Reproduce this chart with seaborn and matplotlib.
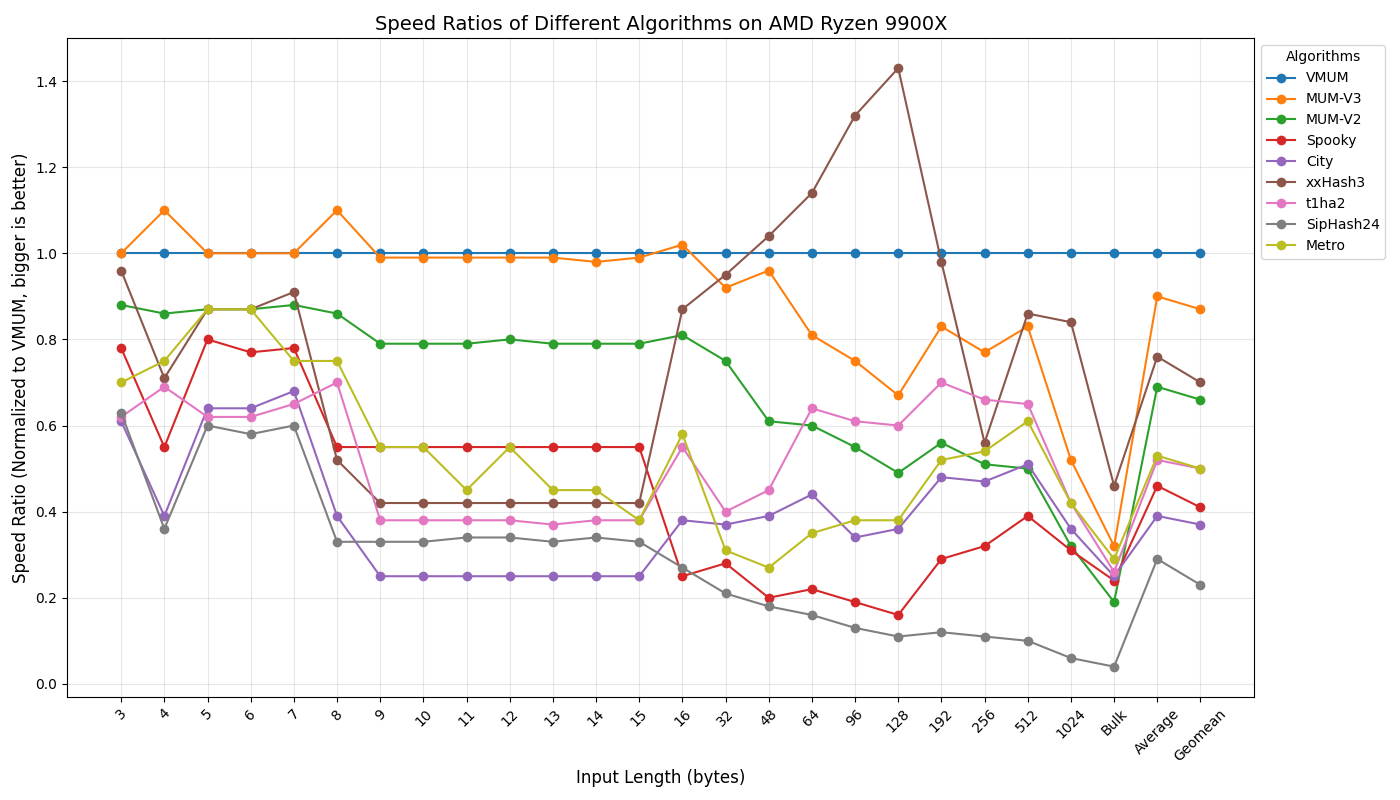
import pandas as pd
import matplotlib
matplotlib.use("Agg")
import matplotlib.pyplot as plt
import seaborn as sns

lengths = ['3', '4', '5', '6', '7', '8', '9', '10', '11', '12', '13', '14', '15', '16',
           '32', '48', '64', '96', '128', '192', '256', '512', '1024', 'Bulk', 'Average', 'Geomean']

vmum = [1.00] * 26
mum_v3 = [1.00, 1.10, 1.00, 1.00, 1.00, 1.10, 0.99, 0.99, 0.99, 0.99, 0.99, 0.98, 0.99, 1.02,
          0.92, 0.96, 0.81, 0.75, 0.67, 0.83, 0.77, 0.83, 0.52, 0.32, 0.90, 0.87]
mum_v2 = [0.88, 0.86, 0.87, 0.87, 0.88, 0.86, 0.79, 0.79, 0.79, 0.80, 0.79, 0.79, 0.79, 0.81,
          0.75, 0.61, 0.60, 0.55, 0.49, 0.56, 0.51, 0.50, 0.32, 0.19, 0.69, 0.66]
spooky = [0.78, 0.55, 0.80, 0.77, 0.78, 0.55, 0.55, 0.55, 0.55, 0.55, 0.55, 0.55, 0.55, 0.25,
          0.28, 0.20, 0.22, 0.19, 0.16, 0.29, 0.32, 0.39, 0.31, 0.24, 0.46, 0.41]
city = [0.61, 0.39, 0.64, 0.64, 0.68, 0.39, 0.25, 0.25, 0.25, 0.25, 0.25, 0.25, 0.25, 0.38,
        0.37, 0.39, 0.44, 0.34, 0.36, 0.48, 0.47, 0.51, 0.36, 0.25, 0.39, 0.37]
xxhash3 = [0.96, 0.71, 0.87, 0.87, 0.91, 0.52, 0.42, 0.42, 0.42, 0.42, 0.42, 0.42, 0.42, 0.87,
           0.95, 1.04, 1.14, 1.32, 1.43, 0.98, 0.56, 0.86, 0.84, 0.46, 0.76, 0.70]
t1ha2 = [0.62, 0.69, 0.62, 0.62, 0.65, 0.70, 0.38, 0.38, 0.38, 0.38, 0.37, 0.38, 0.38, 0.55,
         0.40, 0.45, 0.64, 0.61, 0.60, 0.70, 0.66, 0.65, 0.42, 0.26, 0.52, 0.50]
siphash24 = [0.63, 0.36, 0.60, 0.58, 0.60, 0.33, 0.33, 0.33, 0.34, 0.34, 0.33, 0.34, 0.33, 0.27,
             0.21, 0.18, 0.16, 0.13, 0.11, 0.12, 0.11, 0.10, 0.06, 0.04, 0.29, 0.23]
metro = [0.70, 0.75, 0.87, 0.87, 0.75, 0.75, 0.55, 0.55, 0.45, 0.55, 0.45, 0.45, 0.38, 0.58,
         0.31, 0.27, 0.35, 0.38, 0.38, 0.52, 0.54, 0.61, 0.42, 0.29, 0.53, 0.50]

algorithms = ['VMUM', 'MUM-V3', 'MUM-V2', 'Spooky', 'City', 'xxHash3', 't1ha2', 'SipHash24', 'Metro']
series = [vmum, mum_v3, mum_v2, spooky, city, xxhash3, t1ha2, siphash24, metro]

# long format table for seaborn
rows = []
for name, vals in zip(algorithms, series):
    for length, v in zip(lengths, vals):
        rows.append({'Input Length': length, 'Speed Ratio': v, 'Algorithm': name})
df = pd.DataFrame(rows)

fig, ax = plt.subplots(figsize=(14, 8), dpi=100)

sns.lineplot(data=df, x='Input Length', y='Speed Ratio', hue='Algorithm',
             hue_order=algorithms, palette='tab10', marker='o', markersize=7,
             markeredgewidth=0, linewidth=1.5, sort=False, ax=ax)

ax.set_title('Speed Ratios of Different Algorithms on AMD Ryzen 9900X', fontsize=14)
ax.set_xlabel('Input Length (bytes)', fontsize=12, labelpad=4)
ax.set_ylabel('Speed Ratio (Normalized to VMUM, bigger is better)', fontsize=12)
ax.set_ylim(-0.03, 1.5)
ax.grid(True, alpha=0.3)
plt.xticks(rotation=45)
ax.legend(title='Algorithms', loc='upper left', bbox_to_anchor=(1.0, 1))

fig.subplots_adjust(left=0.048, right=0.896, top=0.9525, bottom=0.129)
plt.savefig('out.png')
